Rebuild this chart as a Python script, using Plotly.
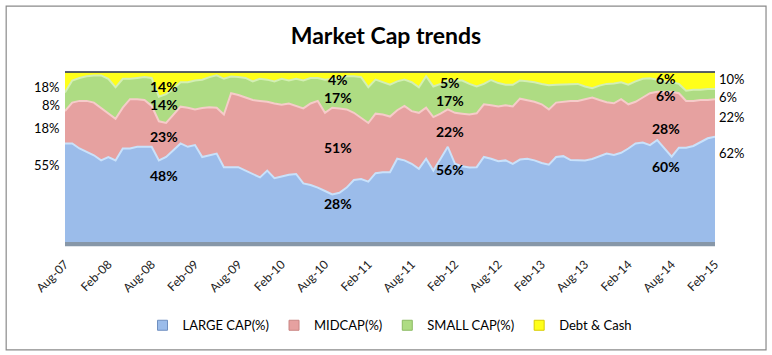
import plotly.graph_objects as go

# Monthly observations Aug-07 .. Feb-15 (91 months)
month_index = list(range(91))
tick_positions = [0, 6, 12, 18, 24, 30, 36, 42, 48, 54, 60, 66, 72, 78, 84, 90]
tick_labels = ["Aug-07", "Feb-08", "Aug-08", "Feb-09", "Aug-09", "Feb-10", "Aug-10", "Feb-11",
               "Aug-11", "Feb-12", "Aug-12", "Feb-13", "Aug-13", "Feb-14", "Aug-14", "Feb-15"]

large_cap = [58, 58, 55, 53, 51, 48, 50, 48, 55, 55, 56, 56, 56, 48, 50, 54, 58, 56, 57, 50,
             51, 52, 44, 44, 44, 42, 40, 38, 42, 37.5, 38.5, 39.5, 40, 34.5, 33.5, 32, 30, 28, 29, 32,
             36.5, 37, 35.5, 40.5, 41, 41, 49, 48, 46, 43, 49, 42, 49, 56, 46, 44.5, 43.8, 44, 50, 49,
             47.5, 48, 46, 48.5, 49, 48, 46.5, 45.5, 50, 50.5, 48.2, 48, 48, 48.8, 50.5, 52, 51.2, 52.5, 55, 58,
             58.5, 57, 60, 55, 50.2, 55.5, 55.5, 56.5, 59, 61, 62]
mid_cap = [19, 24, 28, 30, 31, 31, 26, 24.5, 24, 29, 28, 27.5, 24, 23, 20, 21, 21.6, 23, 21, 28.8,
           28.3, 27, 31, 43.5, 42.5, 43, 43.5, 45, 40.5, 44, 42.3, 42, 40, 44.1, 48, 51, 46, 51, 49.5, 46,
           39.5, 36, 34.5, 35, 34, 32.8, 28.5, 32, 31, 33, 30, 31.5, 26.5, 22, 30, 31, 31.2, 31.7, 31, 31.5,
           32.2, 32.5, 33.7, 35.8, 34.3, 34.5, 34.5, 32.5, 32, 32, 34.8, 35, 36, 36.2, 33, 30.2, 30.4, 31.5, 26, 24.5,
           26.5, 30.5, 28.4, 33.4, 38.2, 32, 27.5, 26.5, 24.5, 22.5, 22]
small_cap = [11, 13, 13.5, 14.5, 16, 19, 20, 18.5, 17, 12, 12.5, 13.5, 16.5, 14.5, 17, 15, 14.4, 15, 17, 16.7,
             17.7, 19, 21, 9.8, 10.5, 11.5, 11, 13, 13, 13, 15.2, 13.5, 16, 16.4, 15, 13.5, 19.5, 17, 18, 19.5,
             21.5, 24, 21, 20, 19, 18.7, 17, 15.5, 17, 15, 18.5, 18, 17.5, 17, 19, 19.5, 18, 15.8, 12, 14.8,
             13.8, 12, 12.8, 10.7, 11.2, 11.5, 12, 14.2, 10.5, 10.1, 9.6, 10, 7.5, 5.5, 8.5, 10.8, 11.6, 10, 11.5, 12,
             11, 8.8, 7.1, 6.1, 5.6, 5.5, 6, 6.5, 6, 6.5, 6]
debt_cash = [12, 5, 3.5, 2.5, 2, 2, 4, 9, 4, 4, 3.5, 3, 3.5, 14.5, 13, 10, 6, 6, 5, 4.5,
             3, 2, 4, 2.7, 3, 3.5, 5.5, 4, 4.5, 5.5, 4, 5, 4, 5, 3.5, 3.5, 4.5, 4, 3.5, 2.5,
             2.5, 3, 9, 4.5, 6, 7.5, 5.5, 4.5, 6, 9, 2.5, 8.5, 7, 5, 5, 5, 7, 8.5, 7, 4.7,
             6.5, 7.5, 7.5, 5, 5.5, 6, 7, 7.8, 7.5, 7.4, 7.4, 7, 8.5, 9.5, 8, 7, 6.8, 6, 7.5, 5.5,
             4, 3.7, 4.5, 5.5, 6, 7, 11, 10.5, 10.5, 10, 10]

series_names = ["LARGE CAP(%)", "MIDCAP(%)", "SMALL CAP(%)", "Debt & Cash"]

# Labels drawn on the chart: (x index, y value, text)
label_pos_x = [13.7, 37.8, 53.3, 83.2]
inner_labels = [["48%", "23%", "14%", "14%"], ["28%", "51%", "17%", "4%"],
                ["56%", "22%", "17%", "5%"], ["60%", "28%", "6%", "6%"]]
inner_label_y = [[39.4, 61.8, 80.6, 91.4], [22.9, 55.3, 85.1, 95.7],
                 [42.8, 64.9, 83.5, 93.7], [44.7, 66.9, 85.9, 96.3]]
left_labels = ["55%", "18%", "8%", "18%"]
left_label_y = [45.3, 67.1, 80.6, 91.4]
right_labels = ["62%", "22%", "6%", "10%"]
right_label_y = [52.2, 73.7, 85.1, 95.7]

fill_colors = ["#9BBCEA", "#E6A1A0", "#AEDC83", "#FFFF1A"]
edge_colors = ["#C9E2FB", "#F6CCCA", "#D3EFB4", "#FFFF80"]
legend_colors = ["#6F8FC0", "#C98583", "#8CBB63", "#D8CC00"]

fig = go.Figure()
for name, vals, fc, ec in zip(series_names, [large_cap, mid_cap, small_cap, debt_cash],
                              fill_colors, edge_colors):
    fig.add_trace(go.Scatter(
        x=month_index, y=vals, name=name, stackgroup="one", mode="lines",
        line=dict(color=ec, width=2), fillcolor=fc, showlegend=False,
    ))
# legend keys (small squares, as in the original)
for name, fc, lc in zip(series_names, fill_colors, legend_colors):
    fig.add_trace(go.Scatter(
        x=[None], y=[None], name=name, mode="markers",
        marker=dict(symbol="square", size=10, color=fc, line=dict(color=lc, width=1)),
    ))

annotations = []
for xi, texts, ys in zip(label_pos_x, inner_labels, inner_label_y):
    for t, yv in zip(texts, ys):
        annotations.append(dict(x=xi, y=yv, xref="x", yref="y", text=t, showarrow=False,
                                font=dict(family="Lato", size=14, color="black", weight="bold")))
for t, yv in zip(left_labels, left_label_y):
    annotations.append(dict(x=-0.005, y=yv, xref="paper", yref="y", text=t, showarrow=False,
                            xanchor="right", font=dict(family="Lato", size=13, color="black")))
for t, yv in zip(right_labels, right_label_y):
    annotations.append(dict(x=1.003, y=yv, xref="paper", yref="y", text=t, showarrow=False,
                            xanchor="left", font=dict(family="Lato", size=13, color="black")))

fig.update_layout(
    width=772, height=355,
    margin=dict(l=65, r=57, t=72, b=113, autoexpand=False),
    paper_bgcolor="white", plot_bgcolor="white",
    title=dict(text="<b>Market Cap trends</b>", x=0.5, xanchor="center", y=0.9, yanchor="middle",
               font=dict(family="Lato", size=23, color="black")),
    xaxis=dict(range=[0, 90], tickmode="array", tickvals=tick_positions, ticktext=tick_labels,
               tickangle=-45, showgrid=False, zeroline=False, showline=False, ticks="",
               ticklabelstandoff=12,
               tickfont=dict(family="Lato", size=12, color="#222222")),
    yaxis=dict(range=[0, 100], visible=False),
    legend=dict(orientation="h", x=0.5, xanchor="center", y=-0.49, yanchor="middle",
                font=dict(family="Lato", size=13, color="black"), traceorder="normal",
                itemwidth=30),
    annotations=annotations,
    shapes=[
        dict(type="rect", xref="paper", yref="paper", x0=-0.0905, x1=1.0785, y0=-0.635, y1=1.388,
             line=dict(color="#8a8a8a", width=1.2), fillcolor="rgba(0,0,0,0)", layer="below"),
        dict(type="line", xref="paper", yref="paper", x0=0, x1=1, y0=1, y1=1,
             line=dict(color="#1F2A44", width=1.5)),
        dict(type="rect", xref="paper", yref="paper", x0=0, x1=1, y0=-0.025, y1=0,
             line=dict(width=0), fillcolor="#8797A8"),
    ],
    showlegend=True,
)

fig.write_html("out.html", config={"displayModeBar": False},
               post_script="document.body.style.margin='0';")
